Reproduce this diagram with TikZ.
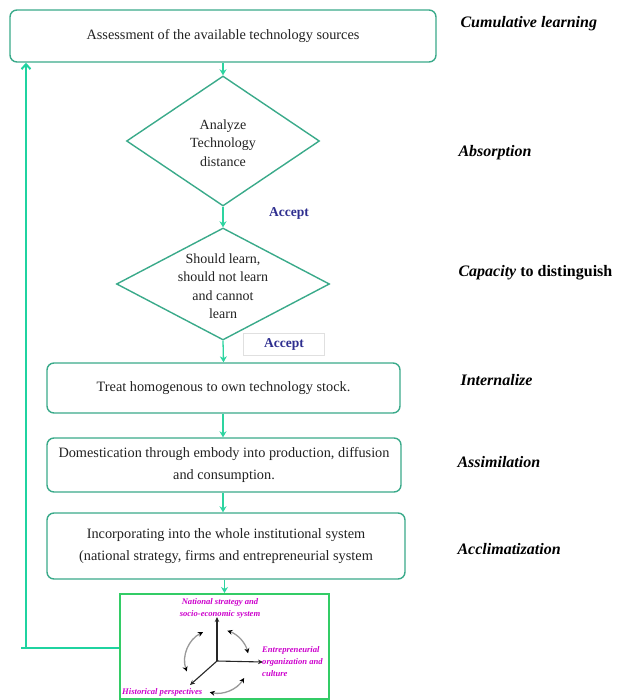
\documentclass[tikz,border=0pt]{standalone}
\usepackage{fontspec}
\setmainfont{Liberation Serif}
\usetikzlibrary{shapes.geometric,arrows.meta,calc}
\definecolor{boxgreen}{HTML}{3AAA8A}
\definecolor{arrgreen}{HTML}{2DD4A0}
\definecolor{fbgreen}{HTML}{1FD3A0}
\definecolor{botgreen}{HTML}{33CC66}
\definecolor{accblue}{HTML}{2E2E8F}
\definecolor{mag}{HTML}{CC00CC}
\definecolor{txt}{HTML}{222222}
\begin{document}
\begin{tikzpicture}[x=1pt,y=-1pt,
  box/.style={draw=boxgreen, line width=1.4pt, rounded corners=7pt, fill=white, inner sep=2pt, align=center, text=txt, font=\fontsize{14.3}{21.5}\selectfont},
  dia/.style={draw=boxgreen, line width=1.4pt, diamond, inner sep=0pt},
  diatext/.style={align=center, text=txt, font=\fontsize{14}{18.5}\selectfont},
  flow/.style={draw=arrgreen, line width=1.3pt, -{Stealth[length=6pt,width=7pt]}},
  fb/.style={draw=fbgreen, line width=2pt},
  phase/.style={anchor=west, font=\fontsize{16}{18}\selectfont\bfseries\itshape},
  acc/.style={text=accblue, font=\fontsize{13.5}{15}\selectfont\bfseries},
  mlab/.style={text=mag, font=\fontsize{8.6}{12}\selectfont\bfseries\itshape},
  axis/.style={draw=black!85, line width=1.1pt, -{Stealth[length=5pt,width=4.5pt]}},
  cyc/.style={draw=black!40, line width=1.3pt, {Stealth[length=5pt,width=5pt,black]}-{Stealth[length=5pt,width=5pt,black]}},
]
\useasboundingbox (0,0) rectangle (616,700);

% main flow
\node[box, minimum width=426pt, minimum height=52pt] (top) at (223,36) {Assessment of the available technology sources};
\node[dia, minimum width=193pt, minimum height=130pt] (d1) at (223,141) {};
\node[diatext] (d1t) at (223,143) {Analyze\\Technology\\distance};
\node[dia, minimum width=213pt, minimum height=112pt] (d2) at (223,284) {};
\node[diatext] (d2t) at (223,286) {Should learn,\\should not learn\\and cannot\\learn};
\node[box, minimum width=353pt, minimum height=50pt] (b3) at (223.5,388) {Treat homogenous to own technology stock.};
\node[box, minimum width=354pt, minimum height=54pt] (b4) at (224,465) {Domestication through embody into production, diffusion\\and consumption.};
\node[box, minimum width=358pt, minimum height=66pt] (b5) at (226,546) {Incorporating into the whole institutional system\\(national strategy, firms and entrepreneurial system};
\node[draw=botgreen, line width=2pt, minimum width=209pt, minimum height=105pt, inner sep=0pt] (bot) at (224.5,646.5) {};

\draw[flow] (top.south) -- (d1.north);
\draw[flow] (d1.south) -- (d2.north);
\draw[flow] (d2.south) -- (b3.north);
\draw[flow] (d2.south |- b3.south) -- (d2.south |- b4.north);
\draw[flow] (d2.south |- b4.south) -- (d2.south |- b5.north);
\draw[flow] (b5.south -| bot.north) -- (bot.north);

% feedback
\coordinate (fbend) at (21,648);
\coordinate (fbcorner) at (26,648);
\draw[fb] (fbend) -- (fbend -| bot.west);
\draw[fb, -{Straight Barb[length=5pt,width=9pt]}] (fbcorner) -- (fbcorner |- top.south);

% accept labels
\node[acc] (acc1) at (289,213) {Accept};
\node[acc, draw=black!12, line width=0.5pt, minimum width=81pt, minimum height=22pt] (acc2) at (284,344) {Accept};

% phase labels
\node[phase] (p1) at (457,24) {Cumulative learning};
\node[phase] (p2) at (455,153) {Absorption};
\node[phase] (p3) at (455,273) {Capacity\upshape\ to distinguish};
\node[phase] (p4) at (457,380) {Internalize};
\node[phase] (p5) at (454,462) {Assimilation};
\node[phase] (p6) at (454,549) {Acclimatization};

% inner diagram
\coordinate (o) at (217,661);
\coordinate (aup) at (217,617);
\coordinate (aright) at (263,662);
\coordinate (adl) at (190,685);
\draw[axis] (o) -- (aup);
\draw[axis] (o) -- (aright);
\draw[axis] (o) -- (adl);
\draw[cyc] ($(o)+(199:32pt)$) arc[start angle=199, end angle=116, radius=32pt];
\draw[cyc] ($(o)+(71:32pt)$) arc[start angle=71, end angle=14, radius=32pt];
\draw[cyc] ($(o)+(-32:32pt)$) arc[start angle=-32, end angle=-103, radius=32pt];
\node[mlab, align=center] (m1) at (220,608) {National strategy and\\socio-economic system};
\node[mlab, align=left, anchor=north west, inner sep=0pt] (m2) at (262,646) {Entrepreneurial\\organization and\\culture};
\node[mlab, anchor=west, inner sep=0pt] (m3) at (122,692) {Historical perspectives};
\end{tikzpicture}
\end{document}
